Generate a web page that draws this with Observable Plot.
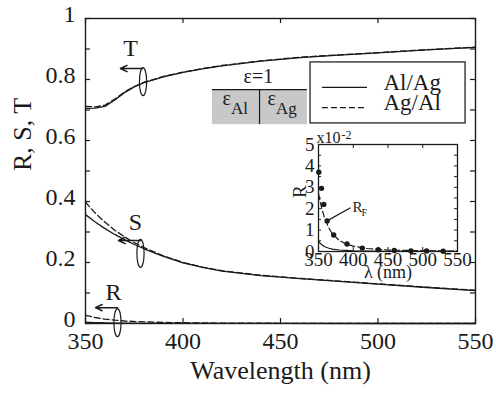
<!DOCTYPE html>
<html><head><meta charset="utf-8">
<script src="https://cdn.jsdelivr.net/npm/d3@7"></script>
<script src="https://cdn.jsdelivr.net/npm/@observablehq/plot@0.6"></script>
<style>
body{margin:0;background:#fff;}
#wrap{position:relative;width:496px;height:396px;}
</style></head><body><div id="wrap"></div>
<script>
// ---- data ----
const wavelength = [350,355,360,365,370,375,380,390,400,410,420,440,460,480,500,525,550];
const T_AlAg = [0.705,0.706,0.712,0.733,0.757,0.776,0.790,0.809,0.823,0.835,0.845,0.860,0.872,0.880,0.887,0.897,0.905];
const T_AgAl = [0.712,0.710,0.716,0.736,0.759,0.777,0.791,0.810,0.824,0.836,0.846,0.861,0.873,0.881,0.888,0.898,0.906];
const S_AlAg = [0.357,0.333,0.311,0.292,0.275,0.259,0.245,0.220,0.199,0.184,0.172,0.157,0.147,0.138,0.129,0.118,0.108];
const S_AgAl = [0.398,0.362,0.332,0.306,0.284,0.265,0.249,0.222,0.200,0.185,0.173,0.158,0.148,0.139,0.130,0.119,0.109];
// R in units of 1e-2
const rWavelength = [350,352,355,358,360,365,370,380,390,400,420,450,500,550];
const R_AlAg = [0.48,0.40,0.31,0.25,0.21,0.15,0.11,0.07,0.05,0.035,0.02,0.012,0.006,0.004];
const R_AgAl = [2.70,2.40,1.97,1.65,1.46,1.10,0.82,0.52,0.35,0.25,0.14,0.07,0.035,0.02];
// Fresnel reflectance R_F points (units of 1e-2)
const rfWavelength = [350.4,354.3,357.6,362.4,371.9,391,413,436,459,483,505.5,529.5];
const rfValue = [3.70,2.95,2.20,1.43,0.77,0.35,0.16,0.08,0.05,0.03,0.02,0.01];

const xTicks = [350,400,450,500,550];
const yTicks = [0,0.1,0.2,0.3,0.4,0.5,0.6,0.7,0.8,0.9,1];
const yLabels = [0,0.2,0.4,0.6,0.8,1];
const insetYTicks = [0,0.5,1,1.5,2,2.5,3,3.5,4,4.5,5];
const insetYLabels = [0,1,2,3,4,5];
const seriesNames = ["Al/Ag","Ag/Al"];

// ---- annotation anchors (data coordinates) ----
const curveLabels = [{t:"T",x:373.1,y:0.902},{t:"S",x:375.6,y:0.331},{t:"R",x:364.4,y:0.102}];
const curveArrows = [{x1:379.2,x2:367.9,y:0.836},{x1:378.2,x2:366.9,y:0.272},{x1:366.4,x2:355.1,y:0.052}];
const curveRings = [{x:379.5,y:0.793},{x:378.2,y:0.230},{x:366.4,y:0.003}];
const legendBox = [{x1:465.4,x2:544.9,y1:0.656,y2:0.856}];
const legendSolid = [{name:seriesNames[0],y:0.774,ty:0.791}];
const legendDashed = [{name:seriesNames[1],y:0.708,ty:0.725}];
const layerBox = [{x1:415.1,x2:463.8,y1:0.652,y2:0.767}];

const ff = "Liberation Serif";
const ink = "#1a1a1a";
const T = (data, o) => Plot.text(data, {fontFamily: ff, fill: ink, ...o});

const toRows = (xs, ys, k=1) => xs.map((x,i)=>({x, y: ys[i]*k}));

const ring = {
  draw(ctx){
    const rx=3.6, ry=14, k=0.5523;
    ctx.moveTo(rx,0);
    ctx.bezierCurveTo(rx,ry*k,rx*k,ry,0,ry);
    ctx.bezierCurveTo(-rx*k,ry,-rx,ry*k,-rx,0);
    ctx.bezierCurveTo(-rx,-ry*k,-rx*k,-ry,0,-ry);
    ctx.bezierCurveTo(rx*k,-ry,rx,-ry*k,rx,0);
    ctx.closePath();
  }
};

const W=496, H=396, mL=85, mR=21, mT=18, mB=73;
const fw = W-mL-mR, fh = H-mT-mB;

const main = Plot.plot({
  width:W, height:H, marginLeft:mL, marginRight:mR, marginTop:mT, marginBottom:mB,
  style:{color:ink, background:"transparent", fontFamily:ff},
  x:{domain:[350,550]},
  y:{domain:[0,1]},
  marks:[
    Plot.rect(layerBox,{x1:"x1",x2:"x2",y1:"y1",y2:"y2",fill:"#c8c8c8"}),
    Plot.ruleY(layerBox,{x1:"x1",x2:"x2",y:"y2",stroke:ink,strokeWidth:1.3}),
    Plot.ruleX(layerBox,{x:d=>(d.x1+d.x2)/2 - 0.2,y1:"y1",y2:"y2",stroke:ink,strokeWidth:1.2}),
    T(["ε=1"],{x:438.7,y:0.809,fontSize:20}),
    T(["ε"],{x:424.6,y:0.736,fontSize:20,textAnchor:"end"}),
    T(["Al"],{x:424.6,y:0.705,fontSize:17,textAnchor:"start"}),
    T(["ε"],{x:447.7,y:0.736,fontSize:20,textAnchor:"end"}),
    T(["Ag"],{x:447.7,y:0.705,fontSize:17,textAnchor:"start"}),

    Plot.rect(legendBox,{x1:"x1",x2:"x2",y1:"y1",y2:"y2",fill:"white",stroke:"#333",strokeWidth:1.4}),
    Plot.ruleY(legendSolid,{x1:471.5,x2:494.6,y:"y",stroke:ink,strokeWidth:1.3}),
    Plot.ruleY(legendDashed,{x1:471.5,x2:494.6,y:"y",stroke:ink,strokeWidth:1.3,strokeDasharray:"6,3"}),
    T(legendSolid.concat(legendDashed),{x:502.8,y:"ty",text:"name",fontSize:23,textAnchor:"start"}),

    Plot.line(toRows(wavelength,T_AlAg),{x:"x",y:"y",stroke:ink,strokeWidth:1.3}),
    Plot.line(toRows(wavelength,T_AgAl),{x:"x",y:"y",stroke:ink,strokeWidth:1.3,strokeDasharray:"6,3"}),
    Plot.line(toRows(wavelength,S_AlAg),{x:"x",y:"y",stroke:ink,strokeWidth:1.3}),
    Plot.line(toRows(wavelength,S_AgAl),{x:"x",y:"y",stroke:ink,strokeWidth:1.3,strokeDasharray:"6,3"}),
    Plot.line(toRows(rWavelength,R_AlAg,1e-2),{x:"x",y:"y",stroke:ink,strokeWidth:1.3}),
    Plot.line(toRows(rWavelength,R_AgAl,1e-2),{x:"x",y:"y",stroke:ink,strokeWidth:1.3,strokeDasharray:"6,3"}),

    T(curveLabels,{x:"x",y:"y",text:"t",fontSize:24}),
    Plot.arrow(curveArrows,{x1:"x1",x2:"x2",y1:"y",y2:"y",bend:0,headLength:9,headAngle:50,stroke:ink,strokeWidth:1.5}),
    Plot.dot(curveRings,{x:"x",y:"y",symbol:ring,r:5,stroke:ink,strokeWidth:1.2,fill:"none"}),

    Plot.frame({stroke:ink,strokeWidth:1.4}),
    Plot.tickX(xTicks,{x:d=>d,insetTop:fh-5,stroke:ink,strokeWidth:1.2}),
    Plot.tickX(xTicks,{x:d=>d,insetBottom:fh-5,stroke:ink,strokeWidth:1.2}),
    Plot.tickY(yTicks,{y:d=>d,insetRight:fw-5,stroke:ink,strokeWidth:1.2}),
    Plot.tickY(yTicks,{y:d=>d,insetLeft:fw-5,stroke:ink,strokeWidth:1.2}),
    Plot.axisX({ticks:xTicks,tickSize:0,tickPadding:8,fontSize:24,fontFamily:ff,fill:ink,label:null,tickFormat:d=>String(d)}),
    Plot.axisY({ticks:yLabels,tickSize:0,tickPadding:10,fontSize:24,fontFamily:ff,fill:ink,label:null,dy:-4,tickFormat:d=>String(d)}),
    T(["Wavelength (nm)"],{frameAnchor:"bottom",dy:55,fontSize:26}),
    T(["R, S, T"],{frameAnchor:"left",dx:-63,rotate:-90,fontSize:26})
  ]
});

// ---- inset ----
const iW=193, iH=157, imL=40, imR=14, imT=16, imB=34;
const ifw=iW-imL-imR, ifh=iH-imT-imB;
const inset = Plot.plot({
  width:iW, height:iH, marginLeft:imL, marginRight:imR, marginTop:imT, marginBottom:imB,
  style:{color:ink, background:"transparent", overflow:"visible", fontFamily:ff},
  x:{domain:[350,550]},
  y:{domain:[0,5]},
  marks:[
    Plot.line(toRows(rWavelength,R_AlAg),{x:"x",y:"y",stroke:ink,strokeWidth:1.2}),
    Plot.line(toRows(rWavelength,R_AgAl),{x:"x",y:"y",stroke:ink,strokeWidth:1.2,strokeDasharray:"6,3"}),
    Plot.dot(toRows(rfWavelength,rfValue),{x:"x",y:"y",r:2.7,fill:ink}),
    Plot.link([{x1:rfWavelength[3],y1:rfValue[3],x2:396,y2:2.04}],{x1:"x1",y1:"y1",x2:"x2",y2:"y2",stroke:ink,strokeWidth:1.2}),
    T(["R"],{x:398.9,y:2.06,fontSize:15,textAnchor:"start"}),
    T(["F"],{x:411.9,y:1.83,fontSize:10,textAnchor:"start"}),
    Plot.frame({stroke:ink,strokeWidth:1.3}),
    Plot.tickX(xTicks,{x:d=>d,insetTop:ifh-4,stroke:ink}),
    Plot.tickX(xTicks,{x:d=>d,insetBottom:ifh-4,stroke:ink}),
    Plot.tickY(insetYTicks,{y:d=>d,insetRight:ifw-3,stroke:ink}),
    Plot.tickY(insetYTicks,{y:d=>d,insetLeft:ifw-3,stroke:ink}),
    Plot.axisX({ticks:xTicks,tickSize:0,tickPadding:1,fontSize:19,fontFamily:ff,fill:ink,label:null,tickFormat:d=>String(d)}),
    Plot.axisY({ticks:insetYLabels,tickSize:0,tickPadding:4,fontSize:19,fontFamily:ff,fill:ink,label:null,tickFormat:d=>String(d)}),
    T(["x10"],{x:347.1,y:5.30,fontSize:16,textAnchor:"start"}),
    T(["-2"],{x:383.1,y:5.44,fontSize:12,textAnchor:"start"}),
    T(["λ (nm)"],{frameAnchor:"bottom",dy:26,fontSize:18}),
    T(["R"],{frameAnchor:"left",dx:-19,rotate:-90,fontSize:19})
  ]
});

const wrap = document.getElementById("wrap");
main.style.position="absolute"; main.style.left="0px"; main.style.top="0px";
inset.style.position="absolute"; inset.style.left=(318-imL)+"px"; inset.style.top=(144-imT)+"px";
wrap.appendChild(main);
wrap.appendChild(inset);
</script>
</body></html>
